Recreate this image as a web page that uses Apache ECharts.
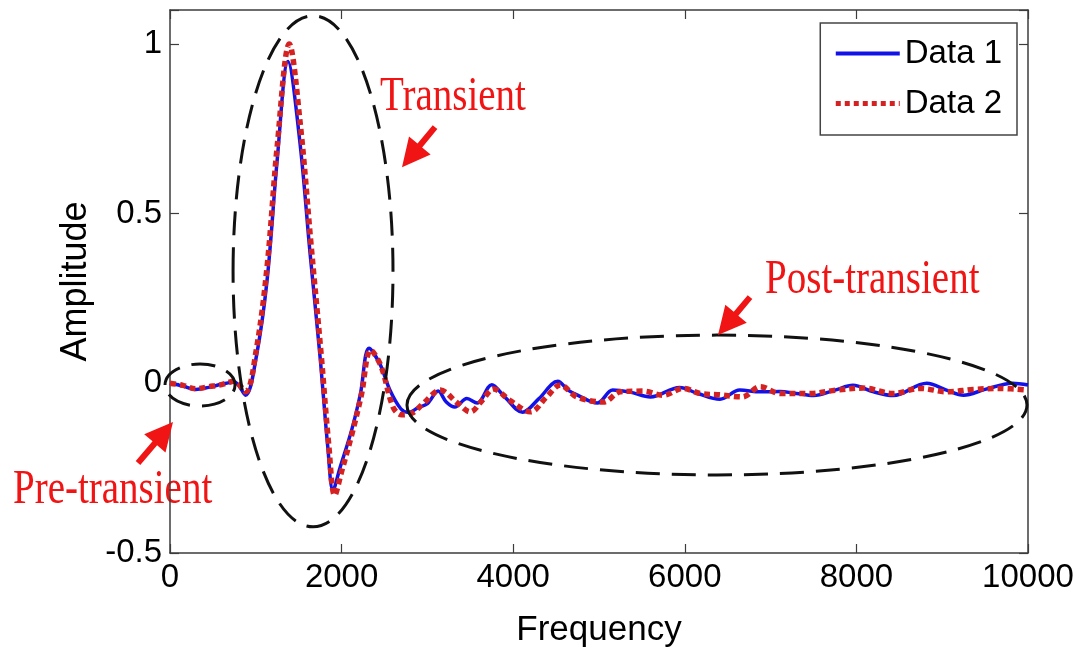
<!DOCTYPE html>
<html>
<head>
<meta charset="utf-8">
<script src="https://cdn.jsdelivr.net/npm/echarts@6/dist/echarts.min.js"></script>
<style>
  html, body { margin: 0; padding: 0; background: #fff; }
  #chart { width: 1084px; height: 654px; }
</style>
</head>
<body>
<div id="chart"></div>
<script>
// ---- data ----
const seriesNames = ['Data 1', 'Data 2'];

const freq1 = [0, 150, 300, 450, 600, 750, 880, 1000, 1130, 1250, 1375, 1510, 1630, 1750, 1840, 1900, 1980,
  2120, 2220, 2320, 2450, 2560, 2690, 2780, 2890, 3000, 3125, 3220, 3320, 3460, 3580, 3750, 3900,
  4110, 4300, 4520, 4640, 4750, 4980, 5160, 5360, 5600, 5940, 6150, 6410, 6640, 6880,
  7110, 7300, 7500, 7750, 7960, 8200, 8430, 8820, 9050, 9250, 9500, 9820, 10000];
const amp1 = [0, -0.008, -0.018, -0.012, -0.003, 0.004, -0.035, 0.07, 0.30, 0.66, 0.948, 0.72, 0.39, 0.075, -0.19, -0.315, -0.25,
  -0.135, -0.03, 0.103, 0.055, -0.018, -0.075, -0.086, -0.072, -0.06, -0.023, -0.055, -0.07, -0.045, -0.058, -0.004, -0.04,
  -0.085, -0.045, 0.006, -0.02, -0.035, -0.058, -0.02, -0.026, -0.04, -0.012, -0.03, -0.047, -0.02, -0.025,
  -0.024, -0.03, -0.036, -0.02, -0.006, -0.025, -0.036, 0.0, -0.02, -0.035, -0.018, 0.0, -0.005];

const freq2 = [0, 150, 300, 450, 600, 750, 880, 1000, 1130, 1250, 1390, 1520, 1640, 1760, 1850, 1920, 2000,
  2130, 2230, 2340, 2460, 2600, 2700, 2820, 2950, 3150, 3350, 3500, 3640, 3770, 3960,
  4200, 4390, 4550, 4740, 5050, 5250, 5510, 5750, 5980, 6180, 6410, 6670, 6880,
  7110, 7460, 7770, 8080, 8430, 8740, 9060, 9360, 9670, 10000];
const amp2 = [0, -0.006, -0.016, -0.01, -0.004, 0.006, -0.025, 0.09, 0.34, 0.70, 1.0, 0.76, 0.42, 0.09, -0.18, -0.33, -0.26,
  -0.14, -0.035, 0.098, 0.05, -0.07, -0.093, -0.088, -0.06, -0.02, -0.058, -0.084, -0.05, -0.017, -0.05,
  -0.084, -0.04, -0.005, -0.04, -0.055, -0.025, -0.023, -0.035, -0.015, -0.03, -0.034, -0.04, -0.01,
  -0.03, -0.03, -0.02, -0.014, -0.03, -0.015, -0.025, -0.018, -0.015, -0.02];

const xTicks = [0, 2000, 4000, 6000, 8000, 10000];
const yTicks = [-0.5, 0, 0.5, 1];

// ---- annotations (anchored in frequency / amplitude units) ----
const regionEllipses = [
  { cx: 350, cy: -0.005, rx: 408, ry: 0.062 },
  { cx: 1667, cy: 0.33, rx: 932, ry: 0.753 },
  { cx: 6375, cy: -0.064, rx: 3613, ry: 0.206 }
];
const regionLabels = [
  { text: 'Transient', at: [2448, 0.841] },
  { text: 'Post-transient', at: [6935, 0.3015] },
  { text: 'Pre-transient', at: [-1830, -0.317] }
];
const regionArrows = [
  { from: [3089, 0.755], to: [2704, 0.637] },
  { from: [6760, 0.254], to: [6387, 0.142] },
  { from: [-373, -0.235], to: [35, -0.114] }
];

// ---- chart ----
const chart = echarts.init(document.getElementById('chart'));
const axisColor = '#3c3c3c';
const sans = 'Liberation Sans, Arial, Helvetica, sans-serif';
const serif = 'Liberation Serif, Times New Roman, serif';
const blue = '#1212e8';
const red = '#d42222';

const near = (v, list) => list.some(t => Math.abs(t - v) < 1e-9);

function frameAxis(extra) {
  return Object.assign({
    type: 'value',
    axisLine: { show: true, onZero: false, lineStyle: { color: axisColor, width: 1.5 } },
    axisTick: { show: true, inside: true, length: 9, lineStyle: { color: axisColor, width: 1.2 } },
    splitLine: { show: false }
  }, extra);
}

const option = {
  animation: false,
  backgroundColor: '#ffffff',
  grid: { left: 170, right: 56, top: 10, bottom: 101 },
  legend: {
    data: [
      { name: seriesNames[0], lineStyle: { width: 4 } },
      { name: seriesNames[1], lineStyle: { width: 5, type: [5, 4] } }
    ],
    orient: 'vertical',
    right: 67,
    top: 23,
    itemWidth: 64,
    itemHeight: 12,
    itemGap: 17,
    padding: [14, 15, 15, 13],
    borderColor: '#444',
    borderWidth: 1.5,
    backgroundColor: '#ffffff',
    itemStyle: { color: 'rgba(0,0,0,0)', borderWidth: 0, opacity: 0 },
    textStyle: { fontFamily: sans, fontSize: 33, color: '#000' }
  },
  xAxis: [
    frameAxis({
      min: 0, max: 10000, interval: 2000,
      name: 'Frequency', nameLocation: 'middle', nameGap: 60,
      nameTextStyle: { fontFamily: sans, fontSize: 35, color: '#000' },
      axisLabel: {
        fontFamily: sans, fontSize: 33, color: '#000', margin: 8,
        formatter: v => near(v, xTicks) ? String(v) : ''
      }
    }),
    frameAxis({ position: 'top', min: 0, max: 10000, interval: 2000, axisLabel: { show: false } })
  ],
  yAxis: [
    frameAxis({
      min: -0.5, max: 1.1, interval: 0.5,
      name: 'Amplitude', nameLocation: 'middle', nameGap: 72, nameRotate: 90,
      nameTextStyle: { fontFamily: sans, fontSize: 36, color: '#000' },
      axisLabel: {
        fontFamily: sans, fontSize: 33, color: '#000', margin: 8,
        formatter: v => near(v, yTicks) ? String(Math.round(v * 10) / 10) : ''
      }
    }),
    frameAxis({ position: 'right', min: -0.5, max: 1.1, interval: 0.5, axisLabel: { show: false } })
  ],
  series: [
    {
      name: seriesNames[0], type: 'line', xAxisIndex: 0, yAxisIndex: 0,
      data: freq1.map((f, i) => [f, amp1[i]]),
      smooth: 0.35, symbol: 'none', z: 3,
      itemStyle: { color: blue },
      lineStyle: { color: blue, width: 3.5 }
    },
    {
      name: seriesNames[1], type: 'line', xAxisIndex: 0, yAxisIndex: 0,
      data: freq2.map((f, i) => [f, amp2[i]]),
      smooth: 0.35, symbol: 'none', z: 4,
      itemStyle: { color: red },
      lineStyle: { color: red, width: 5.5, type: [6, 4] }
    }
  ]
};
chart.setOption(option);

// ---- annotation graphics ----
const toPx = p => chart.convertToPixel({ xAxisIndex: 0, yAxisIndex: 0 }, p);

function arrowPoints(tail, tip) {
  const headLen = 28, headHalf = 14, shaftHalf = 3;
  const dx = tip[0] - tail[0], dy = tip[1] - tail[1];
  const len = Math.hypot(dx, dy);
  const ux = dx / len, uy = dy / len, nx = -uy, ny = ux;
  const bx = tip[0] - ux * headLen, by = tip[1] - uy * headLen;
  return [
    [tail[0] + nx * shaftHalf, tail[1] + ny * shaftHalf],
    [bx + nx * shaftHalf, by + ny * shaftHalf],
    [bx + nx * headHalf, by + ny * headHalf],
    [tip[0], tip[1]],
    [bx - nx * headHalf, by - ny * headHalf],
    [bx - nx * shaftHalf, by - ny * shaftHalf],
    [tail[0] - nx * shaftHalf, tail[1] - ny * shaftHalf]
  ];
}

const elements = [];
regionEllipses.forEach(e => {
  const c = toPx([e.cx, e.cy]);
  const edge = toPx([e.cx + e.rx, e.cy + e.ry]);
  elements.push({
    type: 'ellipse', z: 20, silent: true,
    shape: { cx: c[0], cy: c[1], rx: Math.abs(edge[0] - c[0]), ry: Math.abs(c[1] - edge[1]) },
    style: { fill: 'none', stroke: '#111', lineWidth: 3, lineDash: [24, 12] }
  });
});
regionArrows.forEach(a => {
  elements.push({
    type: 'polygon', z: 21, silent: true,
    shape: { points: arrowPoints(toPx(a.from), toPx(a.to)) },
    style: { fill: '#f01414', stroke: 'none' }
  });
});
regionLabels.forEach(l => {
  const p = toPx(l.at);
  elements.push({
    type: 'text', z: -1, silent: true,
    x: p[0], y: p[1], scaleY: 1.22, originX: 0, originY: 0,
    style: {
      text: l.text, x: 0, y: 0, fill: '#f01414',
      font: '39px ' + serif, textAlign: 'left', textVerticalAlign: 'middle'
    }
  });
});
chart.setOption({ graphic: { elements: elements } });
</script>
</body>
</html>
